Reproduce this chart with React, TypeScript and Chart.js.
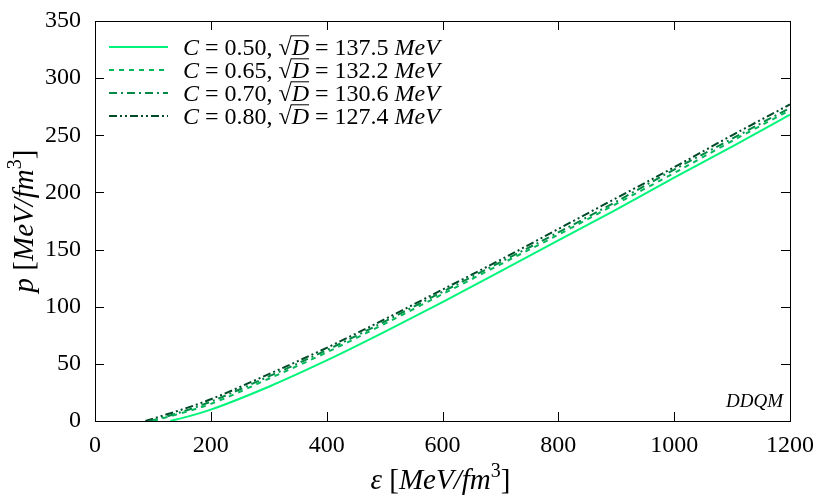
import React, { useEffect, useRef } from "react";
import { Chart, registerables } from "chart.js";
Chart.register(...registerables);

// energy density grid (MeV/fm^3)
const epsGrid = [150, 200, 300, 400, 500, 600, 700, 800, 900, 1000, 1100, 1200];
// where each curve starts (p = 0)
const startEps = [130, 100, 95, 87];
const cValues = ["0.50", "0.65", "0.70", "0.80"];
const sqrtDValues = ["137.5", "132.2", "130.6", "127.4"];
// pressure (MeV/fm^3) on epsGrid
const pC050 = [2.5, 10, 30, 53, 78, 104, 131, 158, 185, 213, 240, 268];
const pC065 = [7, 15, 37, 60, 85, 111, 137, 163, 190, 217, 245, 272];
const pC070 = [8, 17, 39, 62, 87, 113, 139, 165, 192, 220, 247, 274];
const pC080 = [10, 19, 41, 64, 89, 115, 141, 168, 195, 222, 250, 277];
const seriesValues = [pC050, pC065, pC070, pC080];
const xTickValues = [0, 200, 400, 600, 800, 1000, 1200];
const yTickValues = [0, 50, 100, 150, 200, 250, 300, 350];

const colors = ["#00f57a", "#00b85a", "#008a45", "#004a28"];
const dashes: number[][] = [[], [5, 5], [8, 4, 2, 4], [8, 3, 2, 3, 2, 3]];

const SERIF = '"Liberation Serif", "DejaVu Serif", serif';

type Seg = { t: string; i?: boolean; over?: boolean; sup?: boolean };

function segFont(s: Seg, size: number) {
  const sz = s.sup ? Math.round(size * 0.7) : size;
  return `${s.i ? "italic " : ""}${sz}px ${SERIF}`;
}

function drawRich(ctx: CanvasRenderingContext2D, segs: Seg[], x: number, y: number, size: number, align: "left" | "center" | "right") {
  let total = 0;
  const widths = segs.map((s) => {
    ctx.font = segFont(s, size);
    const w = ctx.measureText(s.t).width;
    total += w;
    return w;
  });
  let cx = align === "center" ? x - total / 2 : align === "right" ? x - total : x;
  ctx.textBaseline = "alphabetic";
  ctx.textAlign = "left";
  segs.forEach((s, k) => {
    ctx.font = segFont(s, size);
    const yy = s.sup ? y - size * 0.4 : y;
    ctx.fillText(s.t, cx, yy);
    if (s.over) {
      ctx.save();
      ctx.lineWidth = 1;
      ctx.beginPath();
      const oy = y - size * 0.8;
      ctx.moveTo(cx - 1, oy);
      ctx.lineTo(cx + widths[k], oy);
      ctx.stroke();
      ctx.restore();
    }
    cx += widths[k];
  });
}

const overlayPlugin = {
  id: "overlay",
  afterDraw(chart: any) {
    const ctx: CanvasRenderingContext2D = chart.ctx;
    const { left, right, top, bottom } = chart.chartArea;
    const xs = chart.scales.x;
    const ys = chart.scales.y;
    ctx.save();
    ctx.strokeStyle = "#000";
    ctx.fillStyle = "#000";
    ctx.lineWidth = 1;
    ctx.strokeRect(Math.round(left) + 0.5, Math.round(top) + 0.5, Math.round(right - left), Math.round(bottom - top));
    const tl = 9;
    ctx.beginPath();
    xTickValues.forEach((v) => {
      const px = Math.round(xs.getPixelForValue(v)) + 0.5;
      ctx.moveTo(px, bottom);
      ctx.lineTo(px, bottom - tl);
      ctx.moveTo(px, top);
      ctx.lineTo(px, top + tl);
    });
    yTickValues.forEach((v) => {
      const py = Math.round(ys.getPixelForValue(v)) + 0.5;
      ctx.moveTo(left, py);
      ctx.lineTo(left + tl, py);
      ctx.moveTo(right, py);
      ctx.lineTo(right - tl, py);
    });
    ctx.stroke();

    // legend
    const fs = 24;
    cValues.forEach((c, k) => {
      const ly = top + 26 + k * 23;
      ctx.save();
      ctx.strokeStyle = colors[k];
      ctx.lineWidth = 2;
      ctx.setLineDash(dashes[k]);
      ctx.beginPath();
      ctx.moveTo(left + 14, ly);
      ctx.lineTo(left + 73, ly);
      ctx.stroke();
      ctx.restore();
      drawRich(
        ctx,
        [
          { t: "C", i: true },
          { t: " = " + c + ", √" },
          { t: "D", i: true, over: true },
          { t: " = " + sqrtDValues[k] + " " },
          { t: "MeV", i: true },
        ],
        left + 88,
        ly + 8,
        fs,
        "left"
      );
    });

    // DDQM label
    drawRich(ctx, [{ t: "DDQM", i: true }], right - 7, bottom - 14, 19, "right");

    // axis titles
    const tfs = 29;
    const titleSegs: Seg[] = [
      { t: "[" },
      { t: "MeV/fm", i: true },
      { t: "3", sup: true },
      { t: "]" },
    ];
    drawRich(ctx, [{ t: "ε ", i: true }, ...titleSegs], (left + right) / 2 - 2, 489, tfs, "center");
    ctx.save();
    ctx.translate(33, (top + bottom) / 2);
    ctx.rotate(-Math.PI / 2);
    drawRich(ctx, [{ t: "p ", i: true }, ...titleSegs], 0, 0, tfs, "center");
    ctx.restore();
    ctx.restore();
  },
};

export default function App() {
  const ref = useRef<HTMLCanvasElement>(null);
  useEffect(() => {
    document.body.style.margin = "0";
    const datasets = seriesValues.map((vals, k) => ({
      label: `C = ${cValues[k]}, √D = ${sqrtDValues[k]} MeV`,
      data: [{ x: startEps[k], y: 0 }, ...epsGrid.map((e, j) => ({ x: e, y: vals[j] }))],
      borderColor: colors[k],
      backgroundColor: colors[k],
      borderWidth: 2,
      borderDash: dashes[k],
      pointRadius: 0,
      cubicInterpolationMode: "monotone" as const,
      fill: false,
    }));
    const chart = new Chart(ref.current!, {
      type: "line",
      data: { datasets },
      plugins: [overlayPlugin],
      options: {
        animation: false,
        responsive: false,
        devicePixelRatio: 1,
        layout: { padding: { left: 0, right: 40, top: 21, bottom: 0 } },
        plugins: { legend: { display: false }, tooltip: { enabled: false } },
        scales: {
          x: {
            type: "linear",
            min: 0,
            max: 1200,
            afterBuildTicks: (s: any) => {
              s.ticks = xTickValues.map((v) => ({ value: v }));
            },
            afterFit: (s: any) => {
              s.height = 77;
            },
            grid: { display: false },
            border: { display: false },
            ticks: {
              color: "#000",
              font: { family: SERIF, size: 24 },
              padding: 2,
              maxRotation: 0,
              callback: (v: any) => String(v),
            },
          },
          y: {
            type: "linear",
            min: 0,
            max: 350,
            afterBuildTicks: (s: any) => {
              s.ticks = yTickValues.map((v) => ({ value: v }));
            },
            afterFit: (s: any) => {
              s.width = 95;
            },
            grid: { display: false },
            border: { display: false },
            ticks: {
              color: "#000",
              font: { family: SERIF, size: 24 },
              padding: 6,
              callback: (v: any) => String(v),
            },
          },
        },
      },
    });
    return () => chart.destroy();
  }, []);
  return (
    <div style={{ position: "fixed", left: 0, top: 0, width: 830, height: 498, background: "#fff" }}>
      <canvas ref={ref} width={830} height={498} style={{ width: 830, height: 498 }} />
    </div>
  );
}
